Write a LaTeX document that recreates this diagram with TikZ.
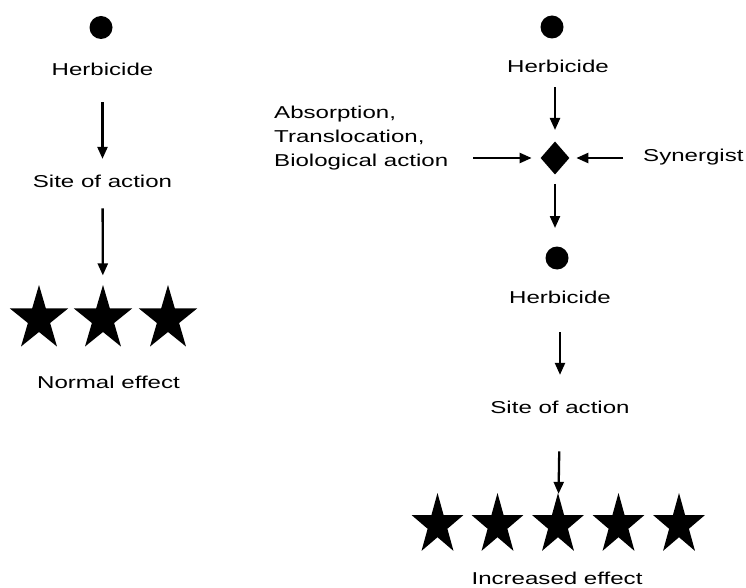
\documentclass[tikz,border=0pt]{standalone}
\usepackage{fontspec}
\setmainfont{Liberation Sans}[FakeStretch=1.4]
\usetikzlibrary{shapes.geometric,arrows.meta}

\tikzset{
    lbl/.style={inner sep=0pt, font=\fontsize{17.2}{24.3}\selectfont},
    dot/.style={circle, fill, inner sep=0pt, outer sep=0pt, minimum size=23pt},
    actbox/.style={diamond, fill, inner sep=0pt, outer sep=0pt,
        minimum width=28.7pt, minimum height=33pt},
    starf/.style={star, star points=5, star point ratio=2.618, fill,
        inner sep=0pt, outer sep=0pt},
    arr/.style={-{Triangle[length=12pt,width=10pt]}, line width=2.3pt}
}

\begin{document}
\begin{tikzpicture}[x=1pt, y=-1pt]
    \useasboundingbox (0,0) rectangle (746,588);

    % normal herbicide
    \node[dot] (dotL) at (101,27.5) {};
    \node[lbl, anchor=base] (herbL) at (102.5,76) {Herbicide};
    \node[lbl, anchor=base] (siteL) at (102.5,187) {Site of action};
    \foreach \x [count=\i] in {39,103,168}
        \node[starf, minimum size=68pt, xscale=.9] (starL\i) at (\x,319) {};
    \node[lbl, anchor=base] (effL) at (108.5,388) {Normal effect};

    \draw[arr, shorten <=26pt, shorten >=15.5pt] (herbL) -- (siteL);
    \draw[arr, shorten <=21pt, shorten >=10pt] (siteL) -- (starL2);

    % with synergist
    \node[dot] (dotR1) at (552,27) {};
    \node[lbl, anchor=base] (herbR1) at (558,73) {Herbicide};
    \node[actbox] (act) at (555,158) {};
    \node[lbl, anchor=north west, align=left] (absn) at (274,105.5)
        {Absorption,\\Translocation,\\Biological action};
    \node[lbl, anchor=base west] (syn) at (643,162) {Synergist};
    \node[dot] (dotR2) at (557,258) {};
    \node[lbl, anchor=base] (herbR2) at (560,303) {Herbicide};
    \node[lbl, anchor=base] (siteR) at (560,413) {Site of action};
    \foreach \x [count=\i] in {437.5,497.5,558,618.5,679}
        \node[starf, minimum size=64pt, xscale=.85] (starR\i) at (\x,525) {};
    \node[lbl, anchor=base] (effR) at (557,584) {Increased effect};

    \draw[arr, shorten <=14pt, shorten >=11.5pt] (act |- herbR1.south) -- (act);
    \draw[arr, shorten <=25pt, shorten >=9pt] (act -| absn.east) -- (act);
    \draw[arr, shorten <=20pt, shorten >=7pt] (act -| syn.west) -- (act);
    \draw[arr, shorten <=9.5pt, shorten >=18.5pt] (act) -- (act |- dotR2.north);
    \draw[arr, shorten <=29pt, shorten >=25.5pt] (herbR2) -- (siteR);
    \draw[arr, shorten <=38pt, shorten >=1pt] (siteR) -- (starR3);
\end{tikzpicture}
\end{document}
